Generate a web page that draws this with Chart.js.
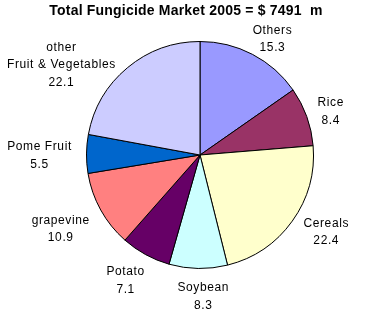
<!DOCTYPE html>
<html>
<head>
<meta charset="utf-8">
<script src="https://cdn.jsdelivr.net/npm/chart.js@4.4.0/dist/chart.umd.min.js"></script>
<style>
  body { margin: 0; background: #fff; }
</style>
</head>
<body>
<canvas id="myChart" width="388" height="312"></canvas>
<script>
'use strict';
const categories = ['Others', 'Rice', 'Cereals', 'Soybean', 'Potato', 'grapevine', 'Pome Fruit', 'other\nFruit & Vegetables'];
const shares = [15.3, 8.4, 22.4, 8.3, 7.1, 10.9, 5.5, 22.1];
const colours = ['#9999FF', '#993366', '#FFFFCC', '#CCFFFF', '#660066', '#FF8080', '#0066CC', '#CCCCFF'];
const titleText = 'Total Fungicide Market 2005 = $ 7491  m';

// label nudges from the rim point at each slice's middle angle
const labelNudge = [[20, -15], [24, -5], [34, 11], [5, 28], [-20, 26], [-40, 19], [-47, 2], [-66, -3]];

const labelPlugin = {
  id: 'sliceLabels',
  afterDatasetsDraw(chart) {
    const ctx = chart.ctx;
    const meta = chart.getDatasetMeta(0);
    ctx.save();
    ctx.fillStyle = '#000';
    ctx.textAlign = 'center';
    ctx.textBaseline = 'middle';
    ctx.font = '12px "Liberation Sans", Arial, sans-serif';
    ctx.letterSpacing = '0.6px';
    meta.data.forEach(function(arc, i) {
      const p = arc.getProps(['x', 'y', 'startAngle', 'endAngle', 'outerRadius'], true);
      const mid = (p.startAngle + p.endAngle) / 2;
      const cx = p.x + Math.cos(mid) * p.outerRadius + labelNudge[i][0];
      const cy = p.y + Math.sin(mid) * p.outerRadius + labelNudge[i][1];
      const lines = categories[i].split('\n').concat([shares[i].toFixed(1)]);
      const lh = 17.5;
      const top = cy - (lines.length - 1) * lh / 2;
      lines.forEach(function(t, j) {
        ctx.fillText(t, cx, top + j * lh);
      });
    });
    // title
    ctx.font = 'bold 14px "Liberation Sans", Arial, sans-serif';
    ctx.letterSpacing = '0.2px';
    ctx.fillText(titleText, 186, 11);
    ctx.restore();
  }
};

let ctx = document.getElementById('myChart').getContext('2d');
let chart = new Chart(ctx, {
  type: 'pie',
  data: {
    labels: categories,
    datasets: [{
      data: shares,
      backgroundColor: colours,
      borderColor: '#000',
      borderWidth: 1
    }]
  },
  options: {
    responsive: false,
    animation: false,
    events: [],
    layout: { padding: { left: 86, right: 74, top: 41, bottom: 43 } },
    plugins: {
      legend: { display: false },
      tooltip: { enabled: false },
      title: { display: false }
    }
  },
  plugins: [labelPlugin]
});
</script>
</body>
</html>
